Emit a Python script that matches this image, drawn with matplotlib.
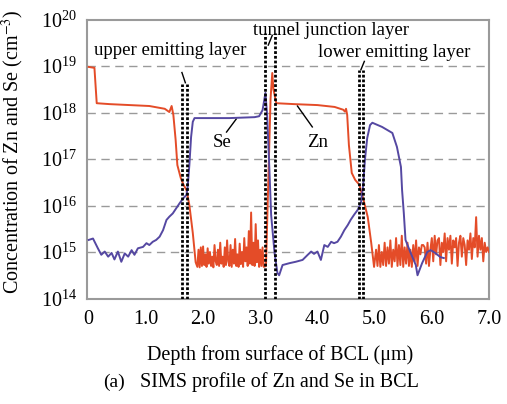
import matplotlib

matplotlib.use("Agg")
import matplotlib.pyplot as plt  # noqa: E402
import numpy as np  # noqa: E402
from matplotlib.ticker import LogLocator, NullLocator  # noqa: E402

plt.rcParams["font.family"] = ["Liberation Serif", "DejaVu Serif"]
plt.rcParams["mathtext.fontset"] = "stix"

# SIMS depth profile, depth in um, concentration as log10(cm^-3)
ZN_DEPTH = [
    0.00, 0.10, 0.14, 0.37, 0.72, 1.06, 1.33, 1.41, 1.45, 1.48, 1.52, 1.55,
    1.61, 1.66, 1.71, 1.76, 1.82, 1.87,
    1.90, 1.92, 1.94, 1.96, 1.98, 2.00, 2.02, 2.04, 2.06, 2.08, 2.10, 2.12,
    2.14, 2.16, 2.18, 2.20, 2.22, 2.24, 2.26, 2.28, 2.30, 2.32, 2.34, 2.36,
    2.38, 2.40, 2.42, 2.44, 2.46, 2.48, 2.50, 2.52, 2.54, 2.56, 2.58, 2.60,
    2.62, 2.64, 2.66, 2.68, 2.70, 2.72, 2.74, 2.76, 2.78, 2.80, 2.82, 2.84,
    2.86, 2.88, 2.90, 2.92, 2.94, 2.96, 2.98, 3.00, 3.02, 3.04, 3.06,
    3.10, 3.14, 3.18, 3.21, 3.23, 3.28, 3.60, 4.00, 4.30, 4.45, 4.48, 4.50,
    4.52, 4.55, 4.60, 4.66, 4.73, 4.80, 4.88, 4.94, 4.99,
    5.025, 5.050, 5.075, 5.100, 5.125, 5.150, 5.175, 5.200, 5.225, 5.250,
    5.275, 5.300, 5.325, 5.350, 5.375, 5.400, 5.425, 5.450, 5.475, 5.500,
    5.525, 5.550, 5.575, 5.600, 5.625, 5.650, 5.675, 5.700, 5.725, 5.750,
    5.775, 5.800, 5.825, 5.850, 5.875, 5.900, 5.925, 5.950, 5.975, 6.000,
    6.025, 6.050, 6.075, 6.100, 6.125, 6.150, 6.175, 6.200, 6.225, 6.250,
    6.275, 6.300, 6.325, 6.350, 6.375, 6.400, 6.425, 6.450, 6.475, 6.500,
    6.525, 6.550, 6.575, 6.600, 6.625, 6.650, 6.675, 6.700, 6.725, 6.750,
    6.775, 6.800, 6.825, 6.850, 6.875, 6.900, 6.925, 6.950, 6.975, 7.000,
]
ZN_LOG = [
    18.98, 18.96, 18.20, 18.18, 18.16, 18.14, 18.08, 18.01, 18.14, 17.95, 17.41, 16.87,
    16.59, 16.44, 16.33, 16.01, 15.41, 14.78,
    14.68, 15.05, 14.67, 15.10, 14.70, 15.12, 14.72, 14.95, 14.68, 15.08, 14.75, 15.00,
    14.70, 14.90, 14.67, 15.15, 14.80, 14.72, 15.05, 14.70, 15.20, 14.75, 14.90, 14.68,
    15.10, 14.72, 15.25, 14.80, 14.70, 15.15, 14.68, 15.05, 14.75, 15.28, 14.70, 14.95,
    14.68, 15.18, 14.74, 15.00, 14.68, 15.30, 14.80, 15.10, 14.70, 15.45, 14.75, 15.85,
    14.72, 15.20, 14.70, 15.60, 14.78, 15.25, 14.68, 15.05, 14.70, 15.10, 14.68,
    14.70, 16.50, 18.30, 18.85, 18.50, 18.20, 18.18, 18.16, 18.12, 18.06, 18.02, 18.08,
    17.95, 17.30, 16.70, 16.55, 16.45, 16.15, 15.75, 15.20, 14.68,
    15.05, 14.70, 15.15, 14.68, 15.00, 14.72, 15.20, 14.70, 15.10, 14.75,
    15.25, 14.68, 15.05, 14.80, 15.30, 14.70, 15.15, 14.72, 15.35, 14.68,
    15.10, 14.75, 15.20, 14.70, 15.05, 14.68, 15.15, 14.80, 15.25, 14.70,
    15.10, 14.95, 15.15, 15.15, 15.10, 14.75, 15.20, 14.70, 15.05, 15.30,
    14.80, 15.35, 14.95, 15.25, 15.30, 14.72, 15.20, 15.00, 15.40, 14.80,
    15.30, 15.05, 15.35, 14.75, 15.25, 15.10, 15.30, 14.70, 15.20, 15.35,
    14.90, 15.30, 15.15, 14.72, 15.25, 15.05, 15.40, 14.85, 15.30, 15.10,
    15.75, 14.90, 15.35, 15.05, 15.30, 14.80, 15.20, 15.00, 15.10, 15.00,
]

SE_DEPTH = [
    0.00, 0.075, 0.16, 0.22, 0.28, 0.34, 0.40, 0.45, 0.51, 0.57, 0.63, 0.69,
    0.75, 0.80, 0.86, 0.95, 1.01, 1.06, 1.12, 1.18, 1.24, 1.30, 1.36, 1.41,
    1.47, 1.53, 1.59, 1.65, 1.71, 1.73, 1.76, 1.79, 1.82, 1.85, 2.11, 2.46,
    2.90, 2.98, 3.04, 3.09, 3.12, 3.16, 3.19, 3.25, 3.30, 3.33, 3.39, 3.51,
    3.62, 3.74, 3.83, 3.89, 3.94, 4.00, 4.06, 4.12, 4.18, 4.24, 4.29, 4.35,
    4.41, 4.47, 4.53, 4.58, 4.64, 4.70, 4.76, 4.80, 4.83, 4.87, 4.92, 4.96,
    5.13, 5.31, 5.39, 5.46, 5.48, 5.51, 5.54, 5.63, 5.72, 5.75, 5.83, 5.92,
    5.98, 6.06, 6.15, 6.21,
]
SE_LOG = [
    15.26, 15.29, 15.08, 14.94, 15.01, 14.90, 14.98, 14.84, 15.01, 14.79, 14.97, 14.90,
    15.04, 14.94, 15.08, 15.11, 15.19, 15.15, 15.22, 15.26, 15.33, 15.47, 15.69, 15.76,
    15.83, 15.94, 16.05, 16.15, 16.23, 16.40, 16.87, 17.47, 17.80, 17.88, 17.88, 17.88,
    17.90, 17.92, 18.05, 18.42, 17.95, 16.76, 15.80, 14.98, 14.55, 14.50, 14.72, 14.76,
    14.79, 14.83, 14.94, 15.01, 14.96, 15.01, 14.83, 15.15, 15.11, 15.22, 15.19, 15.22,
    15.33, 15.47, 15.58, 15.69, 15.80, 15.90, 16.05, 16.44, 16.98, 17.45, 17.73, 17.78,
    17.69, 17.56, 17.26, 16.83, 16.33, 15.84, 15.26, 14.98, 14.72, 14.50, 14.76, 15.00,
    15.04, 14.98, 14.89, 14.87,
]

# layer boundaries (pairs of depths) and the top of each marker, log10
LAYER_BOUNDS = [(1.63, 1.71), (3.08, 3.25), (4.73, 4.79)]
LAYER_TOPS = [18.62, 19.72, 18.92]
LAYER_NAMES = ["upper emitting layer", "tunnel junction layer", "lower emitting layer"]

ZN_COLOR = "#e44c28"
SE_COLOR = "#5548a2"
GRID_COLOR = "#9a9a9a"

fig = plt.figure(figsize=(5.07, 4.04), dpi=100)
ax = fig.add_axes([0.1716, 0.2611, 0.7929, 0.6906])

ax.plot(ZN_DEPTH, 10 ** np.array(ZN_LOG), color=ZN_COLOR, lw=1.4, zorder=3)
ax.plot(SE_DEPTH, 10 ** np.array(SE_LOG), color=SE_COLOR, lw=1.4, zorder=4)

for (d0, d1), top in zip(LAYER_BOUNDS, LAYER_TOPS):
    ax.vlines([d0, d1], 1e14, 10 ** top, colors="black",
              linestyles=(0, (1.0, 0.7)), linewidth=2.0, zorder=5)

ax.set_yscale("log")
ax.set_ylim(1e14, 1e20)
ax.set_xlim(-0.03, 7.0)
ax.yaxis.set_major_locator(LogLocator(base=10, numticks=10))
ax.yaxis.set_minor_locator(NullLocator())
ax.set_xticks([0, 1, 2, 3, 4, 5, 6, 7])
ax.set_xticklabels(["0", "1.0", "2.0", "3.0", "4.0", "5.0", "6.0", "7.0"])
ax.tick_params(axis="both", length=0, labelsize=14.5, pad=8)
ax.tick_params(axis="y", pad=7)

for y in [1e15, 1e16, 1e17, 1e18, 1e19]:
    ax.axhline(y, color=GRID_COLOR, lw=1.0, ls=(0, (6, 4)), zorder=1)

for sp in ax.spines.values():
    sp.set_color(GRID_COLOR)
    sp.set_linewidth(1.5)

# layer labels with short leader lines
ax.text(1.42, 10 ** 19.34, LAYER_NAMES[0], ha="center", va="center", fontsize=13.5)
ax.plot([1.63, 1.69], [10 ** 18.86, 10 ** 18.64], color="black", lw=1.0)
ax.text(4.24, 10 ** 19.76, LAYER_NAMES[1], ha="center", va="center", fontsize=13.5)
ax.plot([3.21, 3.14], [10 ** 19.66, 10 ** 19.45], color="black", lw=1.0)
ax.text(5.35, 10 ** 19.30, LAYER_NAMES[2], ha="center", va="center", fontsize=13.5)
ax.plot([4.82, 4.76], [10 ** 19.10, 10 ** 18.92], color="black", lw=1.0)

ax.text(2.34, 10 ** 17.35, "Se", ha="center", va="center", fontsize=13.5)
ax.plot([2.41, 2.58], [10 ** 17.58, 10 ** 17.86], color="black", lw=1.0)
ax.text(4.00, 10 ** 17.35, "Zn", ha="center", va="center", fontsize=13.5)
ax.plot([3.91, 3.65], [10 ** 17.69, 10 ** 18.14], color="black", lw=1.0)

ax.set_ylabel("Concentration of Zn and Se (cm$^{-3}$)", fontsize=14.5)
ax.yaxis.set_label_coords(-0.152, 0.525)
fig.text(280 / 507, 1 - 355 / 404, "Depth from surface of BCL (\u03bcm)",
         ha="center", va="center", fontsize=14.5)
fig.text(114 / 507, 1 - 382 / 404, "(a)", ha="center", va="center", fontsize=14)
fig.text(140 / 507, 1 - 382 / 404, "SIMS profile of Zn and Se in BCL",
         ha="left", va="center", fontsize=14.5)

fig.savefig("out.png", dpi=100)
